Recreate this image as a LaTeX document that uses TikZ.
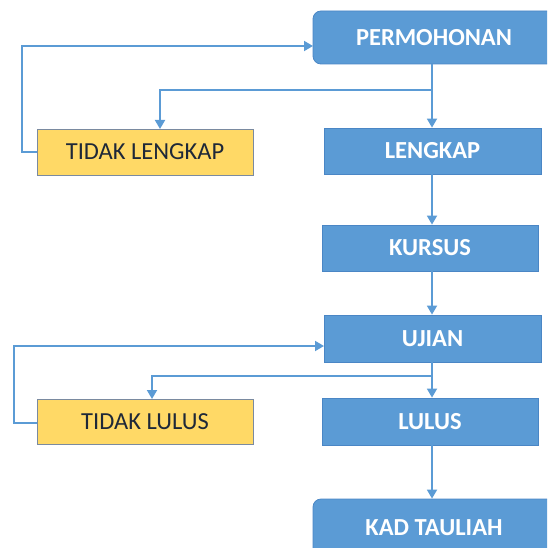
\documentclass[tikz,border=0pt]{standalone}
\usepackage{fontspec}
\setmainfont{Carlito}
\usetikzlibrary{arrows.meta,calc}
\definecolor{bluefill}{HTML}{5B9BD5}
\definecolor{blueline}{HTML}{4A86C5}
\definecolor{conn}{HTML}{5B9BD5}
\definecolor{yellowfill}{HTML}{FFD966}
\definecolor{yellowline}{HTML}{7A8AA0}
\definecolor{darktext}{HTML}{1E2838}
\tikzset{
  bluebox/.style={draw=blueline, line width=0.8pt, fill=bluefill, text=white, font=\fontsize{24.5}{26}\selectfont\bfseries, inner sep=0pt},
  roundbox/.style={bluebox, rounded corners=8pt},
  yellowbox/.style={draw=yellowline, line width=0.8pt, fill=yellowfill, text=darktext, font=\fontsize{24.5}{26}\selectfont, inner sep=0pt},
  arr/.style={draw=conn, line width=1.8pt, -{Triangle[width=10pt,length=9pt]}},
  ln/.style={draw=conn, line width=1.8pt}
}
\begin{document}
\begin{tikzpicture}[x=1pt,y=-1pt]
\useasboundingbox (0,0) rectangle (547,548);
\begin{scope}
\clip (0,0) rectangle (547,548);
\node[roundbox, minimum width=242pt, minimum height=53pt] (perm) at (434,37.5) {PERMOHONAN};
\node[roundbox, minimum width=242pt, minimum height=58pt] (kad) at (434,528) {KAD TAULIAH};
\end{scope}
\node[bluebox, minimum width=217pt, minimum height=46pt] (lk) at (432.5,151) {LENGKAP};
\node[bluebox, minimum width=216pt, minimum height=46pt] (ks) at (430,248) {KURSUS};
\node[bluebox, minimum width=217pt, minimum height=47pt] (uj) at (432.5,338.5) {UJIAN};
\node[bluebox, minimum width=216pt, minimum height=47pt] (ll) at (430,421.5) {LULUS};
\node[yellowbox, minimum width=216pt, minimum height=46pt] (tl) at (145,152) {TIDAK LENGKAP};
\node[yellowbox, minimum width=216pt, minimum height=45pt] (tll) at (145,421.5) {TIDAK LULUS};

\coordinate (j1) at (432,90);
\coordinate (j2) at (432,376);
\coordinate (c1) at (22,152);
\coordinate (c2) at (14,423);
\coordinate (p1) at (313,46);
\coordinate (u1) at (324,346);
\coordinate (t1) at (160,129);
\coordinate (t2) at (152,399);

% main flow
\draw[arr] (432,64) -- (lk.north -| j1);
\draw[arr] (lk.south -| j1) -- (ks.north -| j1);
\draw[arr] (ks.south -| j1) -- (uj.north -| j1);
\draw[arr] (uj.south -| j1) -- (ll.north -| j1);
\draw[arr] (ll.south -| j1) -- (kad.north -| j1);
% branches
\draw[arr] (j1) -| (t1);
\draw[arr] (j2) -| (t2);
% loops back
\draw[arr] (tl.west) -- (c1) |- (p1);
\draw[arr] (tll.west |- c2) -- (c2) |- (u1);
\end{tikzpicture}
\end{document}
